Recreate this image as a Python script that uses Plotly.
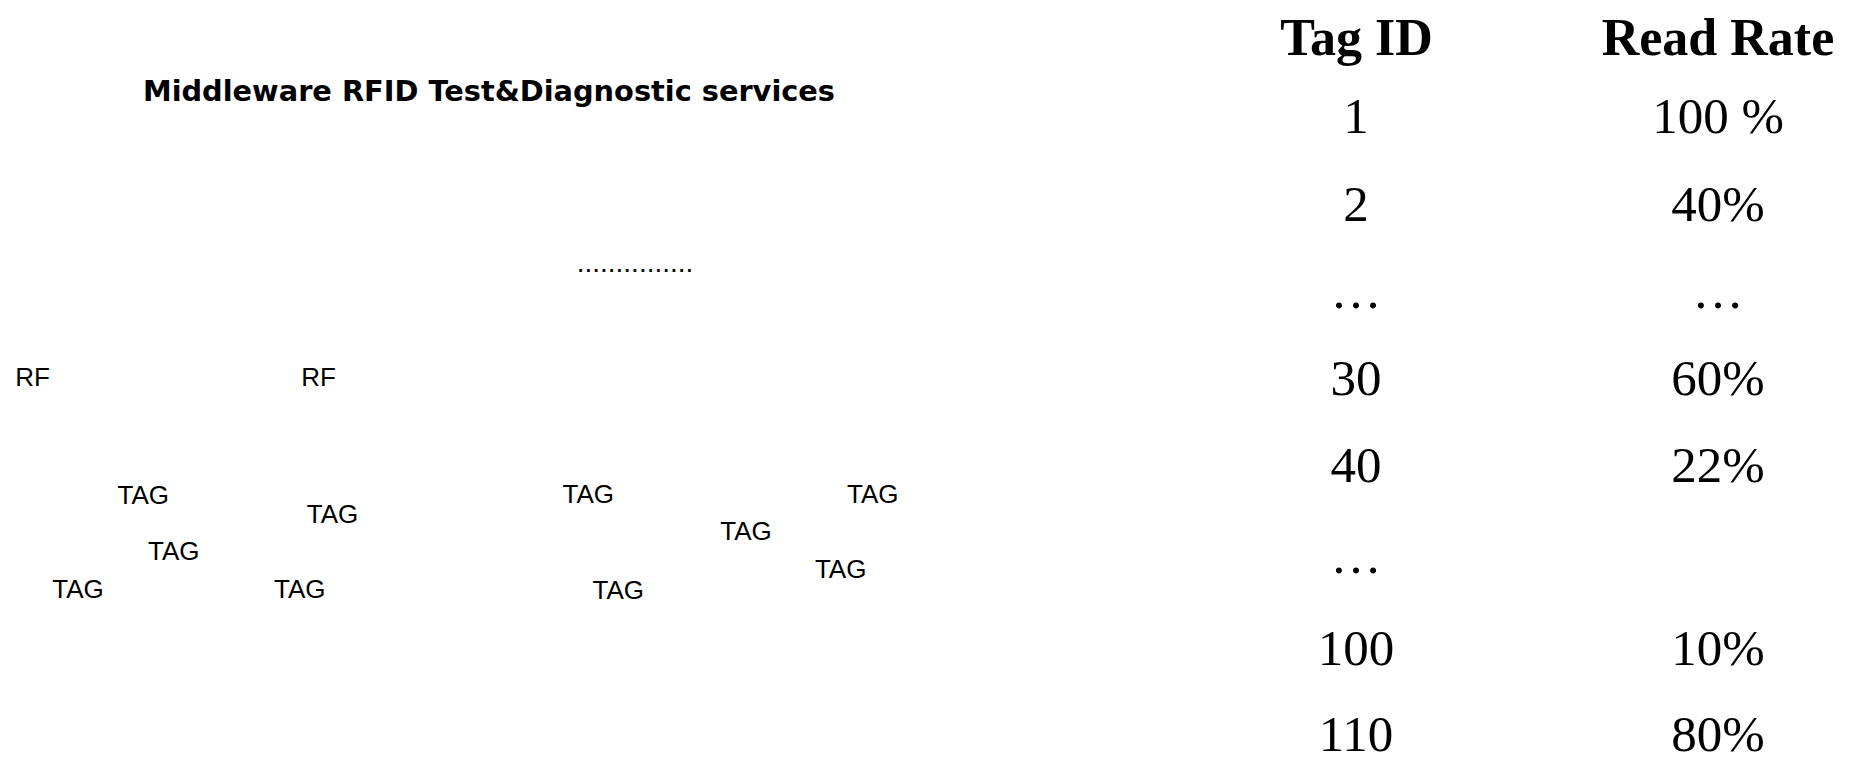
import plotly.graph_objects as go

# ---- data (text content) ----
title_text = "Middleware RFID Test&Diagnostic services"
continuation = "..............."
reader_labels = ["RF", "RF"]
tag_labels = ["TAG"] * 10
table_headers = ["Tag ID", "Read Rate"]
tag_ids = ["1", "2", "…", "30", "40", "…", "100", "110"]
read_rates = ["100 %", "40%", "…", "60%", "22%", "", "10%", "80%"]

# ---- layout positions (pixel space of the 1858x759 canvas) ----
W, H = 1858, 759
PAGE_OFFSET = 8  # default body margin of the html page
title_pos = (489, 93.5)
dots_pos = (635, 265)
reader_x = [32.5, 318.5]
reader_y = [379, 379]
tag_x = [143.3, 332.5, 173.8, 78, 299.8, 588.3, 872.8, 746, 840.7, 618.3]
tag_y = [497.8, 516.3, 553.3, 591.5, 591.5, 496.3, 496.3, 533.7, 571.5, 592]
header_x = [1356.5, 1718]
header_baseline = 60
row_baselines = [138, 226, 313, 400, 487, 578, 670, 756]
col_id_x = 1356
col_rate_x = 1718

SANS = "Liberation Sans, Arial, sans-serif"
SERIF = "Liberation Serif, Times New Roman, serif"

fig = go.Figure()

def text_trace(xs, ys, texts, family, size, weight="normal"):
    fig.add_trace(go.Scatter(
        x=xs, y=ys, text=texts, mode="text",
        textposition="middle center",
        textfont=dict(family=family, size=size, color="#000000", weight=weight),
        hoverinfo="skip", showlegend=False, cliponaxis=False,
    ))

# Title
text_trace([title_pos[0]], [title_pos[1]], [title_text],
           "DejaVu Sans, sans-serif", 28.8, "bold")
# continuation dots
text_trace([dots_pos[0]], [dots_pos[1]], [continuation], SANS, 28)
# readers
text_trace(reader_x, reader_y, reader_labels, SANS, 26)
# tags
text_trace(tag_x, tag_y, tag_labels, SANS, 26)

# Table header
hsize = 52
text_trace(header_x, [header_baseline - 0.35 * hsize] * 2, table_headers, SERIF, hsize, "bold")
# Table rows
vsize = 51
row_y = [b - 0.35 * vsize for b in row_baselines]
text_trace([col_id_x] * len(tag_ids), row_y, tag_ids, SERIF, vsize)
text_trace([col_rate_x] * len(read_rates), row_y, read_rates, SERIF, vsize)

fig.update_layout(
    width=W, height=H,
    margin=dict(l=0, r=0, t=0, b=0),
    paper_bgcolor="white", plot_bgcolor="white",
    xaxis=dict(range=[PAGE_OFFSET, W + PAGE_OFFSET], visible=False, fixedrange=True),
    yaxis=dict(range=[H + PAGE_OFFSET, PAGE_OFFSET], visible=False, fixedrange=True),
    showlegend=False,
)

fig.write_html("out.html", config={"displayModeBar": False})
